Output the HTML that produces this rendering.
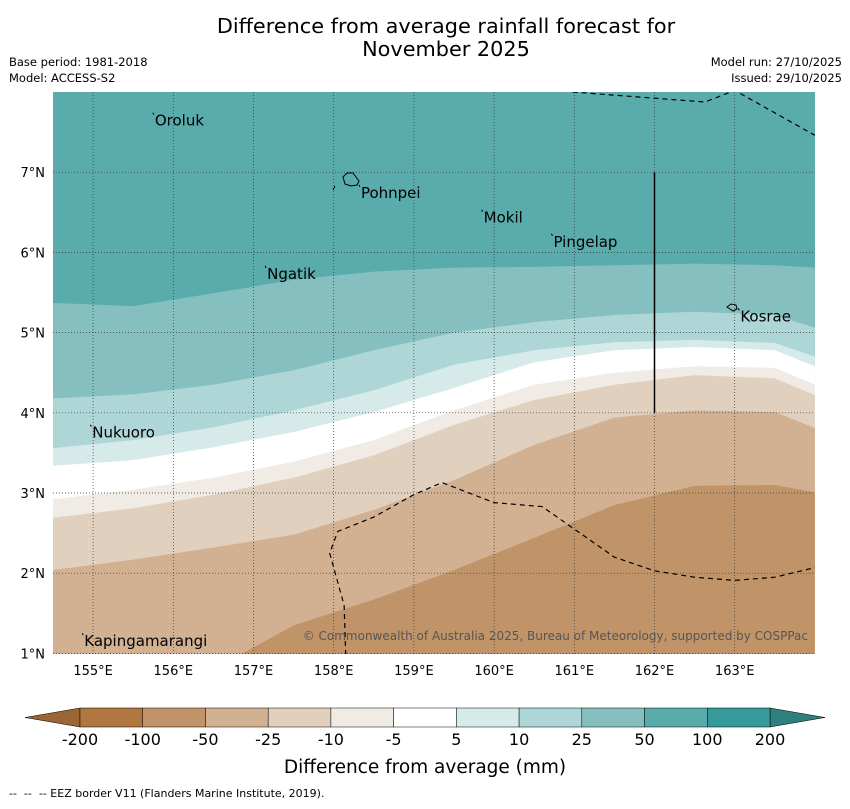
<!DOCTYPE html>
<html><head><meta charset="utf-8"><style>
body{margin:0;background:#fff;font-family:"Liberation Sans","DejaVu Sans",sans-serif}
svg text{font-family:"DejaVu Sans","Liberation Sans",sans-serif}
</style></head><body>
<svg id="chart" width="850" height="804" xmlns="http://www.w3.org/2000/svg">
<text x="446" y="33" font-size="20.8" text-anchor="middle">Difference from average rainfall forecast for</text>
<text x="446" y="56" font-size="20.8" text-anchor="middle">November 2025</text>
<text x="9" y="66" font-size="11.5">Base period: 1981-2018</text>
<text x="9" y="82" font-size="11.5">Model: ACCESS-S2</text>
<text x="842" y="66" font-size="11.5" text-anchor="end">Model run: 27/10/2025</text>
<text x="842" y="82" font-size="11.5" text-anchor="end">Issued: 29/10/2025</text>
<defs><clipPath id="mapclip"><rect x="53" y="92" width="762" height="562"/></clipPath></defs>
<g id="map" clip-path="url(#mapclip)"></g>
<g id="axes"></g>
<g id="cbar"></g>
<text x="425" y="773" font-size="18.5" text-anchor="middle">Difference from average (mm)</text>
<text x="9" y="797" font-size="11" style="white-space:pre">--  --  -- EEZ border V11 (Flanders Marine Institute, 2019).</text>
</svg>
<script>
const lons=[154.5,155.5,156.5,157.5,158.5,159.5,160.5,161.5,162.5,163.5,164];
const bndA=[5.37,5.33,5.49,5.66,5.76,5.81,5.82,5.84,5.86,5.84,5.81];
const bndB=[4.18,4.23,4.35,4.53,4.78,5.0,5.13,5.22,5.26,5.22,5.06];
const bndC=[3.56,3.66,3.82,4.03,4.28,4.60,4.78,4.88,4.91,4.87,4.70];
const bndD=[3.34,3.41,3.57,3.76,4.01,4.31,4.63,4.78,4.82,4.78,4.58];
const bndE=[2.92,3.04,3.19,3.39,3.66,4.03,4.35,4.50,4.58,4.56,4.35];
const bndF=[2.69,2.81,2.98,3.19,3.47,3.85,4.16,4.35,4.47,4.43,4.22];
const bndG=[2.04,2.17,2.32,2.48,2.79,3.16,3.60,3.94,4.03,4.01,3.81];
const bndH=[0.3,0.5,0.8,1.35,1.67,2.04,2.44,2.85,3.09,3.1,3.01];
const bandColors=["#5aabab","#85bfbf","#afd6d6","#d6eaea","#ffffff","#f0ebe5","#e2d0bf","#d2b193","#c09468"];
const lonTicks=[155,156,157,158,159,160,161,162,163];
const latTicks=[1,2,3,4,5,6,7];
const cbLabels=["-200","-100","-50","-25","-10","-5","5","10","25","50","100","200"];
const cbColors=["#b07840","#c09468","#d2b193","#e2d0bf","#f0ebe5","#ffffff","#d6eaea","#afd6d6","#85bfbf","#5aabab","#36999a"];
const places=[["Oroluk",155.77,7.58],["Pohnpei",158.34,6.68],["Mokil",159.87,6.37],["Pingelap",160.74,6.07],["Ngatik",157.17,5.67],["Kosrae",163.07,5.14],["Nukuoro",154.99,3.69],["Kapingamarangi",154.89,1.09]];
const eez1=[[160.98,8.0],[162.63,7.875],[163.0,8.02],[164,7.46]];
const eez2=[[158.15,0.98],[158.13,1.6],[157.95,2.25],[158.05,2.52],[158.5,2.7],[159.0,2.98],[159.35,3.13],[160.0,2.88],[160.6,2.83],[161.0,2.55],[161.5,2.2],[162.0,2.03],[162.5,1.95],[163.0,1.91],[163.5,1.95],[164,2.07]];
const X=lon=>53+(lon-154.5)*80.2, Y=lat=>92+(8-lat)*80.2;
const NS="http://www.w3.org/2000/svg";
function mk(tag,attrs,parent){const e=document.createElementNS(NS,tag);for(const k in attrs)e.setAttribute(k,attrs[k]);parent.appendChild(e);return e;}
const map=document.getElementById('map');
let r=mk('rect',{x:53,y:92,width:762,height:562,fill:bandColors[0]},map);


const bnds=[bndA,bndB,bndC,bndD,bndE,bndF,bndG,bndH];
bnds.forEach((b,i)=>{
 let d=lons.map((l,j)=>(j?'L':'M')+X(l)+','+Y(b[j])).join(' ')+' L'+X(164)+','+(Y(0))+' L'+X(154.5)+','+Y(0)+'Z';
 const p=mk('path',{d:d,fill:bandColors[i+1]},map);
 
 
});
lonTicks.forEach(l=>{const g=mk('line',{x1:X(l),x2:X(l),y1:92,y2:654,stroke:'#333','stroke-width':0.7,'stroke-dasharray':'1,2'},map);
 });
latTicks.forEach(l=>{const g=mk('line',{x1:53,x2:815,y1:Y(l),y2:Y(l),stroke:'#333','stroke-width':0.7,'stroke-dasharray':'1,2'},map);
 });
[eez1,eez2].forEach((e,i)=>{const p=mk('path',{d:e.map((q,j)=>(j?'L':'M')+X(q[0])+','+Y(q[1])).join(' '),fill:'none',stroke:'#000','stroke-width':1.2,'stroke-dasharray':'5,4'},map);
 });
let vl=mk('line',{x1:X(162),x2:X(162),y1:Y(7),y2:Y(4),stroke:'#000','stroke-width':1.5},map);

let pi=mk('path',{d:'M343,177 l4,-4 6,0 3,4 3,4 -2,4 -6,1 -6,-2z M333,190 l2,-4',fill:'none',stroke:'#000','stroke-width':1},map);

let ko=mk('path',{d:'M727,307 l4,-3 5,1 1,4 -4,2z',fill:'none',stroke:'#000','stroke-width':1},map);

places.forEach(p=>{const t=mk('text',{x:X(p[1]),y:Y(p[2]),'font-size':15},map);t.textContent=p[0];
 
 const m=mk('line',{x1:X(p[1])-2,y1:Y(p[2])-13,x2:X(p[1])-1,y2:Y(p[2])-11,stroke:'#000','stroke-width':1},map);
 });
let cp=mk('text',{x:808,y:640,'font-size':12,'text-anchor':'end',fill:'#555'},map);
cp.textContent='© Commonwealth of Australia 2025, Bureau of Meteorology, supported by COSPPac';

const ax=document.getElementById('axes');
lonTicks.forEach(l=>{const t=mk('text',{x:X(l),y:675,'font-size':13,'text-anchor':'middle'},ax);t.textContent=l+'°E';
 });
latTicks.forEach(l=>{const t=mk('text',{x:45,y:Y(l)+5,'font-size':13,'text-anchor':'end'},ax);t.textContent=l+'°N';
 });
const cb=document.getElementById('cbar');
const cx0=80,cw=(770-80)/cbColors.length,cy=708,ch=19;
let tl=mk('path',{d:`M${cx0},${cy} L25,${cy+ch/2} L${cx0},${cy+ch}Z`,fill:'#9a6634',stroke:'#000','stroke-width':0.5},cb);

let tr=mk('path',{d:`M770,${cy} L825,${cy+ch/2} L770,${cy+ch}Z`,fill:'#2f7f7f',stroke:'#000','stroke-width':0.5},cb);

cbColors.forEach((c,i)=>{const s=mk('rect',{x:cx0+i*cw,y:cy,width:cw,height:ch,fill:c,stroke:'#000','stroke-width':0.5},cb);
 });
cbLabels.forEach((lb,i)=>{const t=mk('text',{x:cx0+i*cw,y:745,'font-size':16,'text-anchor':'middle'},cb);t.textContent=lb;
 });
</script>
</body></html>
